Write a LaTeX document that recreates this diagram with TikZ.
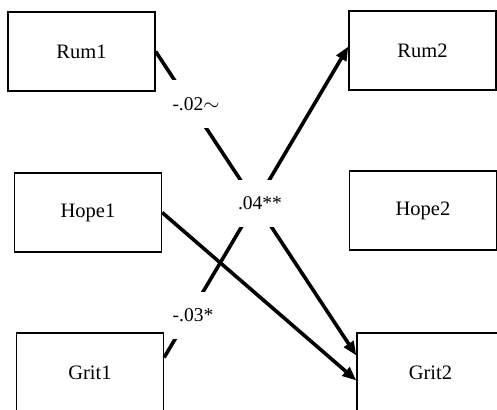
\documentclass[tikz,border=0pt]{standalone}
\usepackage{fontspec}
\setmainfont{Liberation Serif}
\usepackage{tikz}
\usetikzlibrary{positioning, arrows.meta}

\begin{document}
\begin{tikzpicture}[
	x=1pt, y=-1pt,
	box/.style={
		draw,
		rectangle,
		line width=1.3pt,
		minimum width=147pt,
		minimum height=79pt,
		font=\fontsize{20.5}{24}\selectfont,
		align=center
	},
	path/.style={
		line width=3.6pt,
		-{Triangle[length=14pt,width=11pt]}
	},
	coef/.style={
		fill=white,
		inner xsep=1pt,
		minimum height=47pt,
		font=\fontsize{19.5}{22}\selectfont
	}
	]
	
	\clip (0,0) rectangle (497,409);
	
	% Time 1 boxes
	\node[box] (rum1) at (81.5,51.5) {Rum1};
	\node[box] (hope1) at (88,212.5) {Hope1};
	\node[box] (grit1) at (90,372.5) {Grit1};
	
	% Time 2 boxes
	\node[box] (rum2) at (422.5,50.5) {Rum2};
	\node[box] (hope2) at (423,210.5) {Hope2};
	\node[box] (grit2) at (430.5,372.5) {Grit2};
	
	% Cross-lagged paths
	\draw[path] (rum1.east) -- ([yshift=17pt]grit2.west);
	\draw[path] (hope1.east) -- ([yshift=-8pt]grit2.west);
	\draw[path] ([yshift=15pt]grit1.east) -- ([yshift=4pt]rum2.west);
	
	% Coefficients
	\node[coef] (c1) at (196,104) {-.02$\sim$};
	\node[coef] (c2) at (260,203) {.04**};
	\node[coef] (c3) at (193,315) {-.03*};
	
\end{tikzpicture}
\end{document}
